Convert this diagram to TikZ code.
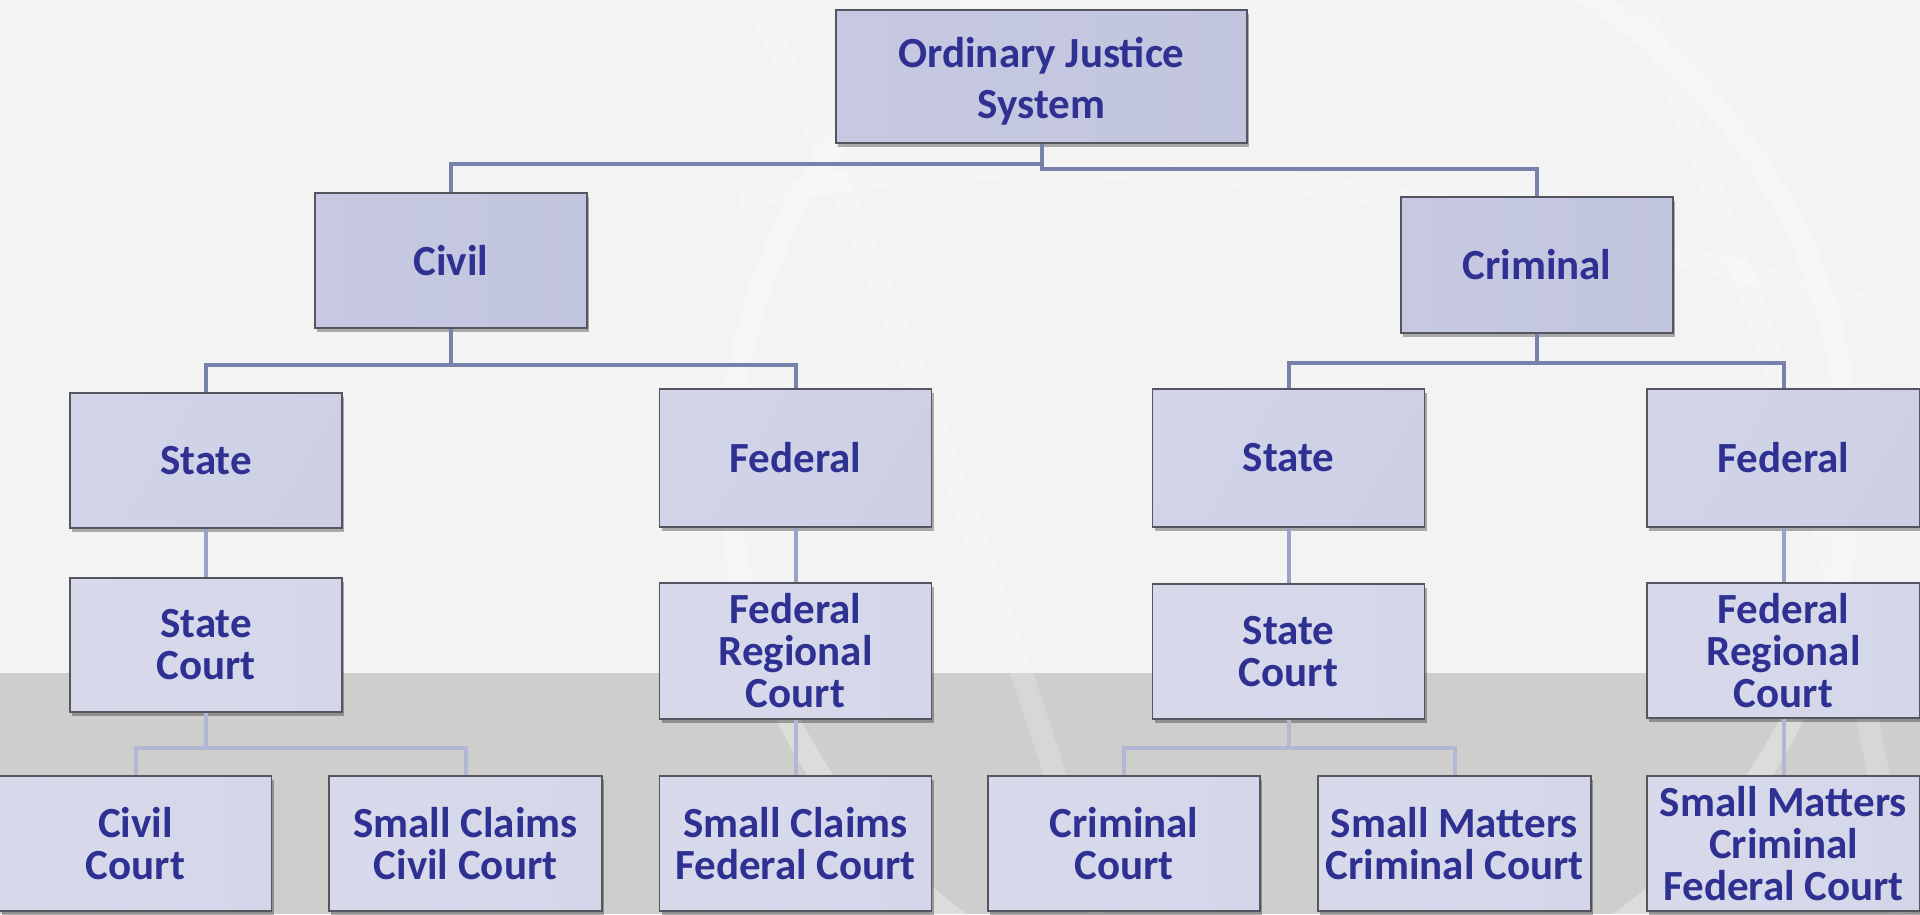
\documentclass[tikz,border=0pt]{standalone}
\usepackage{fontspec}
\setmainfont{Carlito}
\usetikzlibrary{shadows}
\definecolor{txt}{RGB}{46,49,146}
\definecolor{bord}{RGB}{85,85,95}
\definecolor{aA}{RGB}{198,201,225}
\definecolor{aB}{RGB}{168,173,210}
\definecolor{aC}{RGB}{194,197,222}
\definecolor{bA}{RGB}{210,213,233}
\definecolor{bB}{RGB}{186,190,220}
\definecolor{bC}{RGB}{205,208,229}
\definecolor{cA}{RGB}{216,218,236}
\definecolor{cB}{RGB}{196,199,225}
\definecolor{cC}{RGB}{212,214,233}
\definecolor{lnA}{RGB}{120,128,172}
\definecolor{lnB}{RGB}{155,161,200}
\definecolor{lnC}{RGB}{178,183,214}
\definecolor{bgtop}{RGB}{243,243,243}
\definecolor{bgbot}{RGB}{206,206,204}
\tikzset{
  box/.style={draw=bord, line width=1.5pt, minimum width=272pt, minimum height=135pt,
    left color=bA, middle color=bB, right color=bC, shading angle=60,
    text=txt, align=center, inner sep=0pt,
    font=\fontsize{43}{42}\selectfont\bfseries,
    drop shadow={shadow xshift=2pt, shadow yshift=-4pt, opacity=0.3, fill=black}},
  boxA/.style={box, left color=aA, middle color=aB, right color=aC},
  boxC/.style={box, left color=cA, middle color=cB, right color=cC},
  connA/.style={draw=lnA, line width=4pt},
  connB/.style={draw=lnB, line width=4pt},
  connC/.style={draw=lnC, line width=4pt},
  globe/.style={draw=white, line width=22pt, opacity=0.3}
}
\begin{document}
\begin{tikzpicture}[x=1pt,y=-1pt]
\useasboundingbox (0,0) rectangle (1920,914);
\clip (0,0) rectangle (1920,914);
% background
\fill[bgtop] (0,0) rectangle (1920,914);
\fill[bgbot] (0,673) rectangle (1920,914);
\draw[globe] (1290,470) circle (560pt);
\draw[globe, opacity=0.2] (760,10) .. controls (900,300) and (1000,600) .. (1100,914);
\draw[globe, opacity=0.2] (740,200) .. controls (1100,120) and (1500,200) .. (1920,320);
\draw[globe, opacity=0.2] (1640,0) .. controls (1760,300) and (1860,600) .. (1900,914);
% nodes
\node[boxA, minimum width=411pt, minimum height=133pt,
  label={[text=txt, align=center, inner sep=0pt, yshift=-5pt, font=\fontsize{43}{51}\selectfont\bfseries]center:Ordinary Justice\\System}] (ojs) at (1041.5,76.5) {};
\node[boxA] (civil) at (451,260.5) {Civil};
\node[boxA, minimum height=136pt] (criminal) at (1537,265) {Criminal};
\node[box] (stateL) at (206,460.5) {State};
\node[box, minimum height=138pt] (fedL) at (795.5,458) {Federal};
\node[box, minimum height=138pt] (stateR) at (1288.5,458) {State};
\node[box, minimum height=138pt, minimum width=273pt] (fedR) at (1783.5,458) {Federal};
\node[boxC, minimum height=134pt] (scL) at (206,645) {State\\Court};
\node[boxC, minimum height=136pt] (frL) at (795.5,651) {Federal\\Regional\\Court};
\node[boxC] (scR) at (1288.5,651.5) {State\\Court};
\node[boxC, minimum width=273pt] (frR) at (1783.5,650.5) {Federal\\Regional\\Court};
\node[boxC] (cc) at (135.5,843.5) {Civil\\Court};
\node[boxC, minimum width=273pt] (scc) at (465.5,843.5) {Small Claims\\Civil Court};
\node[boxC] (sfc) at (795.5,843.5) {Small Claims\\Federal Court};
\node[boxC] (crc) at (1124,843.5) {Criminal\\Court};
\node[boxC, minimum width=273pt] (smc) at (1454.5,843.5) {Small Matters\\Criminal Court};
\node[boxC, minimum width=273pt] (smf) at (1783.5,843.5) {Small Matters\\Criminal\\Federal Court};
% connectors
\draw[connA] (ojs.south) -- ++(0,20) -| (civil.north);
\draw[connA] (ojs.south) -- ++(0,25) -| (criminal.north);
\draw[connA] (civil.south) -- ++(0,36) -| (stateL.north);
\draw[connA] (civil.south) -- ++(0,36) -| (fedL.north);
\draw[connA] (criminal.south) -- ++(0,29) -| (stateR.north);
\draw[connA] (criminal.south) -- ++(0,29) -| (fedR.north);
\draw[connB] (stateL.south) -- (scL.north);
\draw[connB] (fedL.south) -- (frL.north);
\draw[connB] (stateR.south) -- (scR.north);
\draw[connB] (fedR.south) -- (frR.north);
\draw[connC] (scL.south) -- ++(0,35) -| (cc.north);
\draw[connC] (scL.south) -- ++(0,35) -| (scc.north);
\draw[connC] (frL.south) -- (sfc.north);
\draw[connC] (scR.south) -- ++(0,28) -| (crc.north);
\draw[connC] (scR.south) -- ++(0,28) -| (smc.north);
\draw[connC] (frR.south) -- (smf.north);
\end{tikzpicture}
\end{document}
